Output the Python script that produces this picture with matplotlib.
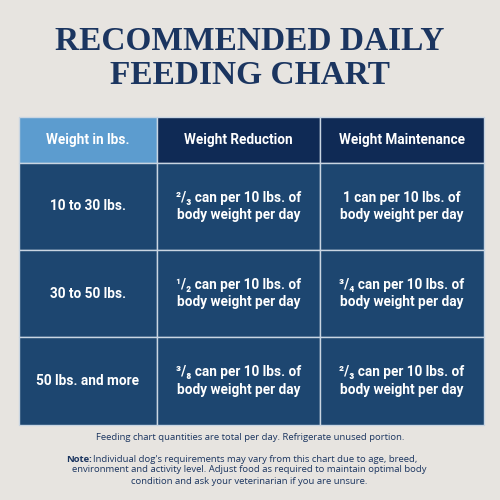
import matplotlib.pyplot as plt
from matplotlib.patches import Rectangle

title_lines = ["RECOMMENDED DAILY", "FEEDING CHART"]
headers = ["Weight in lbs.", "Weight Reduction", "Weight Maintenance"]
weights = ["10 to 30 lbs.", "30 to 50 lbs.", "50 lbs. and more"]
reduction = ["²/₃ can per 10 lbs. of\nbody weight per day",
             "¹/₂ can per 10 lbs. of\nbody weight per day",
             "³/₈ can per 10 lbs. of\nbody weight per day"]
maintenance = ["1 can per 10 lbs. of\nbody weight per day",
               "³/₄ can per 10 lbs. of\nbody weight per day",
               "²/₃ can per 10 lbs. of\nbody weight per day"]
footer = "Feeding chart quantities are total per day. Refrigerate unused portion."
note_lines = ["Individual dog's requirements may vary from this chart due to age, breed,",
              "environment and activity level. Adjust food as required to maintain optimal body",
              "condition and ask your veterinarian if you are unsure."]

BG = "#e7e4e0"
NAVY = "#1b3560"
HEAD1 = "#5c9ccf"
HEAD = "#0f2a55"
BODY = "#1d4670"
LINE = "#c9d5e2"
cell_font = ["Roboto", "DejaVu Sans"]

fig = plt.figure(figsize=(5, 5), dpi=100, facecolor=BG)
ax = fig.add_axes([0, 0, 1, 1])
ax.set_xlim(0, 500); ax.set_ylim(500, 0); ax.axis("off")

for i, t in enumerate(title_lines):
    ax.text(250, 42 + i * 33, t, ha="center", va="center", color=NAVY,
            fontsize=24, fontweight="bold", family=["Liberation Serif", "DejaVu Serif"])

xs = [19, 157, 320, 484]
ys = [117, 163, 250, 337, 425]
for c in range(3):
    ax.add_patch(Rectangle((xs[c], ys[0]), xs[c+1] - xs[c], ys[1] - ys[0],
                           facecolor=HEAD1 if c == 0 else HEAD, edgecolor=LINE, lw=1))
    ax.text((xs[c] + xs[c+1]) / 2, (ys[0] + ys[1]) / 2, headers[c], ha="center", va="center",
            color="white", fontsize=9.8, fontweight="bold", family=cell_font)
cols = [weights, reduction, maintenance]
for r in range(3):
    for c in range(3):
        ax.add_patch(Rectangle((xs[c], ys[r+1]), xs[c+1] - xs[c], ys[r+2] - ys[r+1],
                               facecolor=BODY, edgecolor=LINE, lw=1))
        ax.text((xs[c] + xs[c+1]) / 2, (ys[r+1] + ys[r+2]) / 2, cols[c][r], ha="center",
                va="center", color="white", fontsize=9.8, fontweight="bold",
                family=cell_font, linespacing=1.35)

small = ["Open Sans", "DejaVu Sans"]
ax.text(250, 437, footer, ha="center", va="center", color=NAVY, fontsize=6.8, family=small)
ax.text(66, 459, "Note:", ha="left", va="center", color=NAVY, fontsize=6.8,
        fontweight="bold", family=small)
ax.text(93, 459, note_lines[0], ha="left", va="center", color=NAVY, fontsize=6.8, family=small)
ax.text(249, 470, note_lines[1], ha="center", va="center", color=NAVY, fontsize=6.8, family=small)
ax.text(249, 481, note_lines[2], ha="center", va="center", color=NAVY, fontsize=6.8, family=small)

fig.savefig("out.png", dpi=100, facecolor=BG)
